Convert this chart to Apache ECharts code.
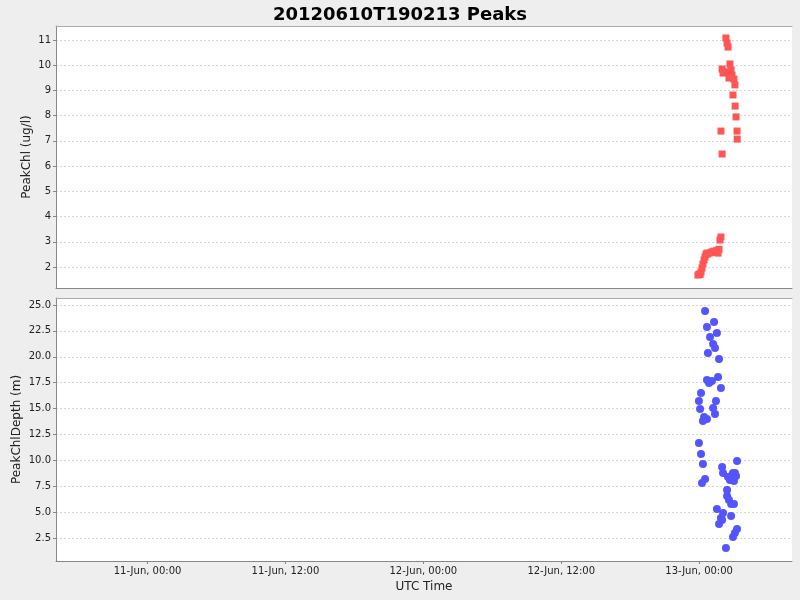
<!DOCTYPE html>
<html><head><meta charset="utf-8">
<script src="https://cdn.jsdelivr.net/npm/echarts@6/dist/echarts.min.js"></script>
<style>html,body{margin:0;padding:0;background:#eeeeee}#c{width:800px;height:600px}</style>
</head><body><div id="c"></div>
<script>
const chartTitle = "20120610T190213 Peaks";
const chlTimes = [
  "2012-06-12T23:54","2012-06-13T00:00","2012-06-13T00:05","2012-06-13T00:10","2012-06-13T00:15",
  "2012-06-13T00:20","2012-06-13T00:26","2012-06-13T00:31","2012-06-13T00:36","2012-06-13T00:41",
  "2012-06-13T00:46","2012-06-13T00:57","2012-06-13T01:07","2012-06-13T01:18","2012-06-13T01:28",
  "2012-06-13T01:33","2012-06-13T01:39","2012-06-13T01:44","2012-06-13T01:49","2012-06-13T01:54",
  "2012-06-13T01:54","2012-06-13T02:00","2012-06-13T02:00","2012-06-13T02:05","2012-06-13T02:10",
  "2012-06-13T02:20","2012-06-13T02:26","2012-06-13T02:31","2012-06-13T02:31","2012-06-13T02:36",
  "2012-06-13T02:41","2012-06-13T02:47","2012-06-13T02:47","2012-06-13T02:52","2012-06-13T02:57",
  "2012-06-13T03:02","2012-06-13T03:07","2012-06-13T03:08","2012-06-13T03:13","2012-06-13T03:18",
  "2012-06-13T03:19"
];
const chlValues = [
  1.68,1.72,1.70,1.80,1.96,
  2.12,2.28,2.40,2.50,2.55,
  2.52,2.56,2.60,2.63,2.58,
  2.66,2.55,2.70,3.07,3.19,
  7.39,6.48,9.85,9.69,9.73,
  11.08,10.88,10.72,9.73,9.49,
  10.05,9.81,9.53,9.61,8.82,
  9.45,9.22,8.38,7.95,7.39,
  7.07
];
const depthTimes = [
  "2012-06-13T00:31","2012-06-13T01:18","2012-06-13T00:41","2012-06-13T01:33","2012-06-13T00:57",
  "2012-06-13T01:13","2012-06-13T01:23","2012-06-13T00:46","2012-06-13T01:44","2012-06-13T01:39",
  "2012-06-13T00:41","2012-06-13T00:52","2012-06-13T01:07","2012-06-13T01:54","2012-06-13T00:10",
  "2012-06-12T23:59","2012-06-13T01:28","2012-06-13T00:05","2012-06-13T01:13","2012-06-13T01:23",
  "2012-06-13T00:26","2012-06-13T00:41","2012-06-13T00:20","2012-06-12T23:59","2012-06-13T00:10",
  "2012-06-13T00:20","2012-06-13T03:18","2012-06-13T02:00","2012-06-13T02:05","2012-06-13T02:57",
  "2012-06-13T03:07","2012-06-13T02:31","2012-06-13T02:41","2012-06-13T02:57","2012-06-13T02:52",
  "2012-06-13T03:13","2012-06-13T03:02","2012-06-13T00:31","2012-06-13T00:15","2012-06-13T02:26",
  "2012-06-13T02:26","2012-06-13T02:36","2012-06-13T02:47","2012-06-13T03:02","2012-06-13T01:33",
  "2012-06-13T02:05","2012-06-13T02:47","2012-06-13T01:54","2012-06-13T02:00","2012-06-13T01:44",
  "2012-06-13T03:18","2012-06-13T03:07","2012-06-13T02:57","2012-06-13T02:20"
];
const depthValues = [
  24.42,23.36,22.88,22.30,21.91,
  21.23,20.85,20.37,19.79,18.05,
  17.76,17.47,17.66,16.98,16.50,
  15.73,15.73,14.96,15.05,14.48,
  14.18,13.99,13.80,11.67,10.61,
  9.65,9.94,9.36,8.78,8.78,
  8.78,8.39,8.10,8.29,8.58,
  8.49,8.00,8.20,7.81,7.14,
  6.56,6.17,5.78,5.78,5.30,
  4.91,4.63,4.43,4.24,3.85,
  3.37,2.98,2.60,1.54
];
const chlTicks = [2,3,4,5,6,7,8,9,10,11];
const depthTicks = [2.5,5,7.5,10,12.5,15,17.5,20,22.5,25];
const timeTicks = ["2012-06-11T00:00","2012-06-11T12:00","2012-06-12T00:00","2012-06-12T12:00","2012-06-13T00:00"];
const timeMin = "2012-06-10T16:02";
const timeMax = "2012-06-13T08:05";
const chlRange = [1.167, 11.555];
const depthRange = [0.279, 25.676];

const toMs = s => Date.parse(s + ":00Z");
const months = ['Jan','Feb','Mar','Apr','May','Jun','Jul','Aug','Sep','Oct','Nov','Dec'];
const pad = n => String(n).padStart(2,'0');
function fmtTime(v){
  const d = new Date(v);
  return pad(d.getUTCDate()) + '-' + months[d.getUTCMonth()] + ', ' + pad(d.getUTCHours()) + ':' + pad(d.getUTCMinutes());
}
const FONT = 'DejaVu Sans';
const axisGray = '#888888';
const gridLine = {show:true, lineStyle:{color:'#d6d6d6', type:[2,2], width:1}};

function xAxisBase(gi){
  return {
    type:'value', gridIndex:gi, min:toMs(timeMin), max:toMs(timeMax),
    axisLine:{show:true, lineStyle:{color:axisGray}},
    splitLine:{show:false}
  };
}
const xBottom = Object.assign(xAxisBase(1), {
  name:'UTC Time', nameLocation:'middle', nameGap:20, nameMoveOverlap:false,
  nameTextStyle:{fontFamily:FONT, fontSize:12, color:'#222'},
  axisTick:{show:true, length:3, lineStyle:{color:axisGray}, customValues: timeTicks.map(toMs)},
  axisLabel:{show:true, fontFamily:FONT, fontSize:10, color:'#222', margin:5,
    customValues: timeTicks.map(toMs), formatter: fmtTime}
});
const xTop0 = Object.assign(xAxisBase(0), {axisTick:{show:false}, axisLabel:{show:false}});
const xTopBorder0 = Object.assign(xAxisBase(0), {position:'top', axisLine:{show:true, lineStyle:{color:'#aaaaaa'}}, axisTick:{show:false}, axisLabel:{show:false}});
const xTopBorder1 = Object.assign(xAxisBase(1), {position:'top', axisLine:{show:true, lineStyle:{color:'#aaaaaa'}}, axisTick:{show:false}, axisLabel:{show:false}});

const option = {
  animation:false,
  backgroundColor:'#eeeeee',
  title:{text:chartTitle, left:'center', top:1,
    textStyle:{fontFamily:FONT, fontSize:18, fontWeight:'bold', color:'#000'}},
  grid:[
    {left:56, right:8, top:26, height:262, show:true, backgroundColor:'#ffffff', borderWidth:0, outerBoundsMode:'none', containLabel:false},
    {left:56, right:8, top:298, height:263, show:true, backgroundColor:'#ffffff', borderWidth:0, outerBoundsMode:'none', containLabel:false}
  ],
  xAxis:[xTop0, xBottom, xTopBorder0, xTopBorder1],
  yAxis:[
    {type:'value', gridIndex:0, min:chlRange[0], max:chlRange[1],
     name:'PeakChl (ug/l)', nameLocation:'middle', nameGap:23, nameMoveOverlap:false,
     nameTextStyle:{fontFamily:FONT, fontSize:12, color:'#222'},
     axisLine:{show:true, lineStyle:{color:axisGray}},
     axisTick:{show:true, length:3, lineStyle:{color:axisGray}, customValues:chlTicks},
     axisLabel:{fontFamily:FONT, fontSize:10, color:'#222', margin:5, customValues:chlTicks},
     splitLine:gridLine},
    {type:'value', gridIndex:1, min:depthRange[0], max:depthRange[1],
     name:'PeakChlDepth (m)', nameLocation:'middle', nameGap:33, nameMoveOverlap:false,
     nameTextStyle:{fontFamily:FONT, fontSize:12, color:'#222'},
     axisLine:{show:true, lineStyle:{color:axisGray}},
     axisTick:{show:true, length:3, lineStyle:{color:axisGray}, customValues:depthTicks},
     axisLabel:{fontFamily:FONT, fontSize:10, color:'#222', margin:5, customValues:depthTicks,
       formatter: v => v.toFixed(1)},
     splitLine:gridLine}
  ],
  series:[
    {type:'scatter', name:'PeakChl', xAxisIndex:0, yAxisIndex:0, symbol:'rect', symbolSize:7,
     itemStyle:{color:'#ff5555', opacity:1},
     data: chlTimes.map((t,i)=>[toMs(t), chlValues[i]])},
    {type:'scatter', name:'PeakChlDepth', xAxisIndex:1, yAxisIndex:1, symbol:'circle', symbolSize:8,
     itemStyle:{color:'#5555ff', opacity:1},
     data: depthTimes.map((t,i)=>[toMs(t), depthValues[i]])}
  ]
};
const chart = echarts.init(document.getElementById('c'), null, {renderer:'canvas'});
chart.setOption(option);
</script></body></html>
